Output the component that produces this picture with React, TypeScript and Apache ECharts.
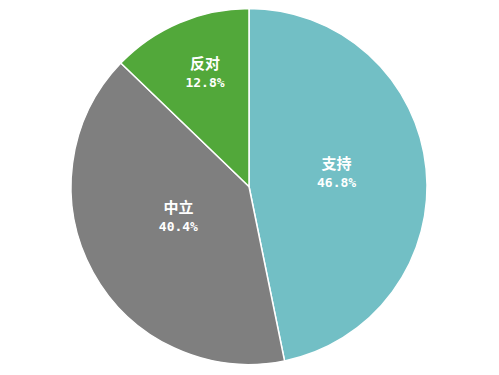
import React, { useEffect, useRef } from "react";
import * as echarts from "echarts";

const categories = ["支持", "中立", "反对"];
const values = [46.8, 40.4, 12.8];
const colors = ["#72BFC5", "#7F7F7F", "#52A83A"];
const labelShift = [
  [-4, -5],
  [10, -15],
  [-8, -30],
];

export default function App() {
  const ref = useRef<HTMLDivElement>(null);
  useEffect(() => {
    if (!ref.current) return;
    const chart = echarts.init(ref.current, undefined, { renderer: "svg" });
    chart.setOption({
      animation: false,
      backgroundColor: "#ffffff",
      series: [
        {
          type: "pie",
          center: [249, 186.5],
          radius: [0, 178],
          startAngle: 90,
          clockwise: true,
          color: colors,
          itemStyle: { borderColor: "#ffffff", borderWidth: 1.5 },
          label: {
            show: true,
            position: "inside",
            formatter: "{n|{b}}\n{v|{d}%}",
            color: "#ffffff",
            rich: {
              n: {
                fontSize: 15,
                fontWeight: "bold",
                color: "#ffffff",
                lineHeight: 21,
                fontFamily: "'Noto Sans CJK SC', sans-serif",
              },
              v: {
                fontSize: 13,
                fontWeight: "bold",
                color: "#ffffff",
                lineHeight: 19,
                fontFamily: "'DejaVu Sans Mono', monospace",
              },
            },
          },
          labelLayout: (p: any) => ({
            dx: labelShift[p.dataIndex][0],
            dy: labelShift[p.dataIndex][1],
          }),
          labelLine: { show: false },
          data: categories.map((c, i) => ({ name: c, value: values[i] })),
        },
      ],
    });
    return () => chart.dispose();
  }, []);
  return (
    <div
      ref={ref}
      style={{ position: "absolute", left: 0, top: 0, width: 499, height: 375 }}
    />
  );
}
